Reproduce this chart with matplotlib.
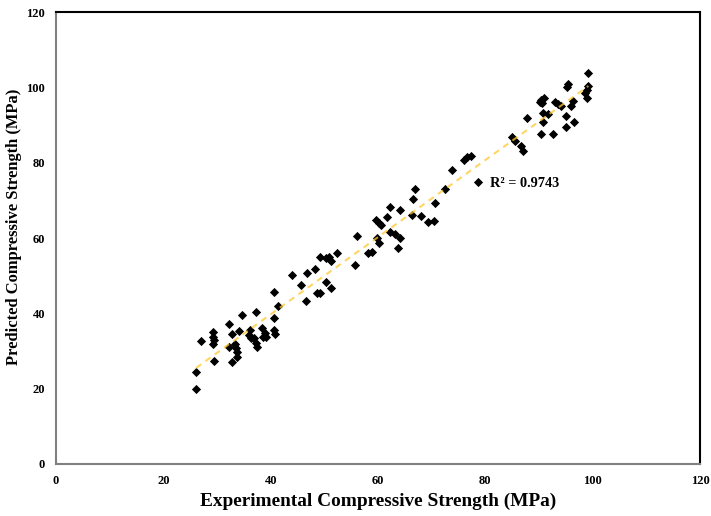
import numpy as np
import matplotlib
matplotlib.use("Agg")
from matplotlib import pyplot as plt

# experimental vs predicted compressive strength (MPa)
experimental = [26.1, 26.1, 27.0, 29.2, 29.3, 29.4, 29.2, 29.4, 32.2, 32.7, 32.3, 32.7,
                34.6, 34.1, 33.4, 33.6, 33.7, 33.8, 37.3, 36.1, 35.9, 36.3, 36.8, 37.3,
                37.4, 38.4, 39.0, 39.1, 38.5, 40.7, 40.8, 40.6, 41.4, 40.6,
                43.9, 45.7, 46.7, 48.2, 46.6, 48.7, 49.2, 50.4, 51.2, 49.2, 50.3, 50.8,
                51.2, 52.4, 55.8, 58.2, 58.8, 60.1, 59.9, 56.1,
                59.6, 60.1, 60.5, 61.6, 62.2, 62.2, 63.2, 64.1, 63.7, 64.1, 66.3, 66.5,
                66.9, 68.0, 69.4, 70.5, 70.6, 72.4, 73.8, 76.0, 76.5, 77.3, 78.6,
                85.0, 85.5, 86.6, 87.0, 87.8, 90.3, 90.7, 90.7, 91.6, 90.1, 90.5, 91.0,
                90.3, 92.7, 93.0, 93.6, 94.1, 95.2, 95.4, 95.0, 95.0, 96.0, 96.4, 96.5,
                98.9, 99.2, 98.6, 98.9, 99.2]
predicted = [19.8, 24.4, 32.7, 35.0, 33.7, 33.0, 31.9, 27.3, 37.2, 34.4, 31.1, 27.1,
             39.6, 35.4, 31.8, 30.7, 29.8, 28.5, 40.4, 35.6, 34.2, 33.4, 33.4, 32.0,
             31.0, 36.0, 34.9, 33.6, 33.8, 35.6, 34.6, 38.7, 41.9, 45.6,
             50.2, 47.6, 50.8, 51.9, 43.4, 45.5, 45.5, 48.2, 46.7, 54.9, 54.6, 54.9,
             53.9, 56.1, 52.9, 55.9, 56.2, 58.7, 60.1, 60.5,
             64.8, 64.1, 63.4, 65.7, 68.1, 61.5, 61.1, 60.1, 57.3, 67.4, 66.1, 70.3,
             72.9, 65.8, 64.2, 64.5, 69.2, 72.9, 78.0, 80.7, 81.4, 81.8, 74.9,
             86.9, 85.8, 84.4, 83.2, 91.9, 87.6, 90.7, 93.1, 92.8, 96.2, 95.8, 97.1,
             96.6, 87.6, 96.2, 95.5, 95.0, 100.2, 100.8, 92.4, 89.5, 95.0, 96.4, 90.7,
             99.3, 100.3, 98.4, 97.1, 103.7]
ticks = [0, 20, 40, 60, 80, 100, 120]

x = np.array(experimental)
y = np.array(predicted)
slope, intercept = np.polyfit(x, y, 1)

plt.rcParams['font.family'] = ['Liberation Serif', 'DejaVu Serif']
plt.rcParams['font.weight'] = 'bold'

fig = plt.figure(figsize=(7.11, 5.16), dpi=100)
ax = fig.add_axes([0.0788, 0.1008, 0.9057, 0.8759])

ax.scatter(x, y, marker='D', s=22, color='black', linewidths=0, zorder=2)
xs = np.array([x.min(), x.max()])
ax.plot(xs, slope * xs + intercept, linestyle=(0, (3, 2.5)), color='#FFC830',
        alpha=0.75, linewidth=1.5, zorder=3)
ax.text(80.8, 74.6, 'R² = 0.9743', fontsize=10.3, fontweight='bold', va='center')

ax.set_xlim(0, 120)
ax.set_ylim(0, 120)
ax.set_xticks(ticks)
ax.set_yticks(ticks)
ax.tick_params(length=0, labelsize=9, pad=8)
for lab in ax.get_xticklabels() + ax.get_yticklabels():
    lab.set_fontweight('bold')

for side in ['left', 'bottom']:
    ax.spines[side].set_color('#808080')
    ax.spines[side].set_linewidth(1.5)
for side in ['top', 'right']:
    ax.spines[side].set_color('black')
    ax.spines[side].set_linewidth(1.5)

ax.set_xlabel('Experimental Compressive Strength (MPa)', fontsize=13.9,
              fontweight='bold', labelpad=4)
ax.set_ylabel('Predicted Compressive Strength (MPa)', fontsize=11.9,
              fontweight='bold', va='center')
ax.yaxis.set_label_coords(-42 / 644, 0.524)

fig.savefig('out.png', dpi=100)
